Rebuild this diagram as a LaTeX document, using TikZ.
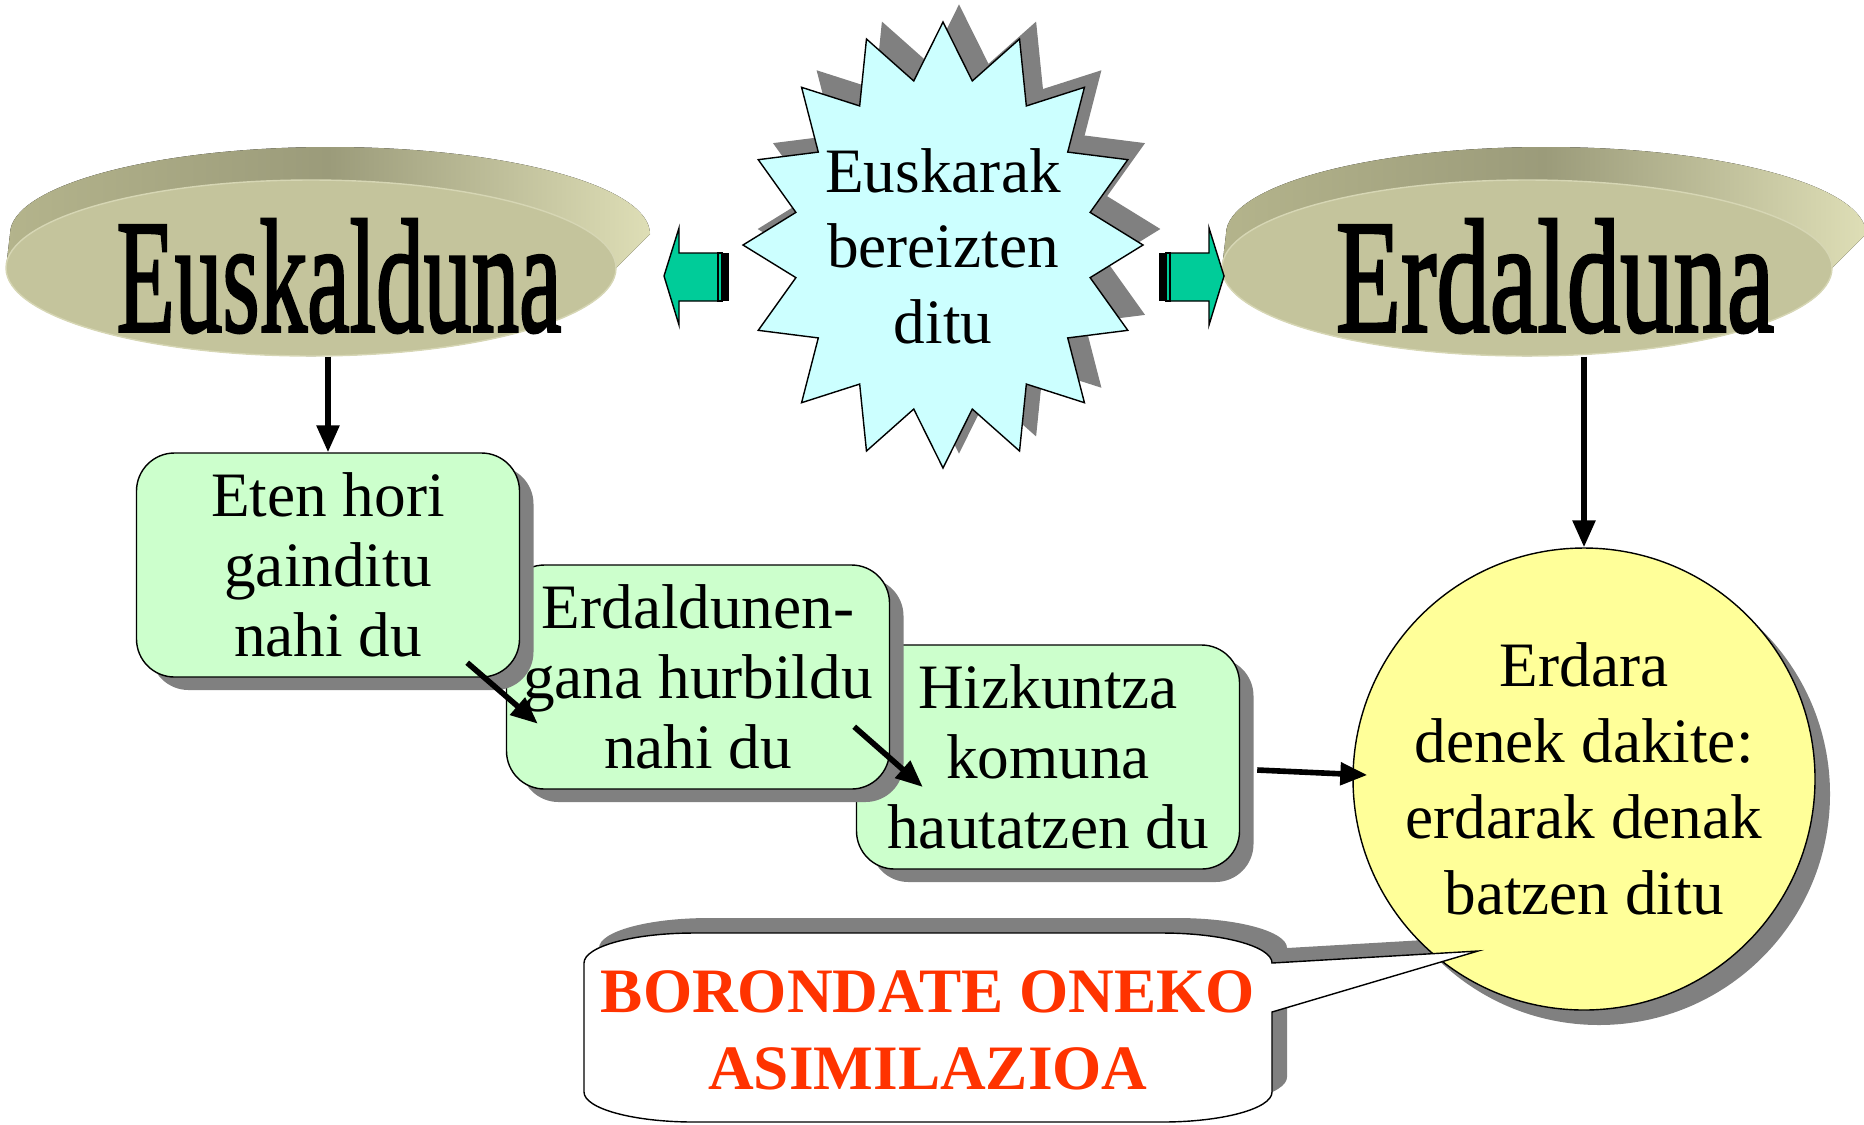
\documentclass[tikz,border=0pt]{standalone}
\usepackage{fontspec}
\setmainfont{Liberation Serif}
\newfontfamily\wordfont[FakeBold=2]{Liberation Serif}
\usepackage{tikz}
\usetikzlibrary{arrows.meta,positioning,shapes.geometric,shadows,calc}

\begin{document}
\begin{tikzpicture}[x=0.1mm,y=-0.1mm,
  txt/.style={align=center,font=\fontsize{18}{20}\selectfont},
  bigword/.style={font=\wordfont\fontsize{46}{46}\selectfont,inner sep=0pt},
  arr/.style={line width=1.6pt,-{Triangle[length=2.7mm,width=2.2mm]}},
  boxshadow/.style={drop shadow={shadow xshift=1.4mm,shadow yshift=-1.3mm,fill=shadowgray,opacity=1}},
  stepbox/.style={txt,draw,fill=boxgreen,rounded corners=3.8mm,minimum width=38.3mm,minimum height=22.4mm,inner sep=0pt,boxshadow}]
\definecolor{discface}{HTML}{C4C49C}
\definecolor{discedge}{HTML}{D6D6B4}
\definecolor{rimleft}{HTML}{B4B48C}
\definecolor{rimmid}{HTML}{9B9B7A}
\definecolor{rimright}{HTML}{DEDEB6}
\definecolor{starfill}{HTML}{CCFFFF}
\definecolor{boxgreen}{HTML}{CCFFCC}
\definecolor{arrowgreen}{HTML}{00CC99}
\definecolor{circfill}{HTML}{FFFF99}
\definecolor{shadowgray}{HTML}{808080}
\definecolor{warn}{HTML}{FF3300}
\useasboundingbox (0,0) rectangle (1864,1124);

% discs
\foreach \cx/\name/\word/\sc in {311/euskal/Euskalduna/0.59,1527/erdal/Erdalduna/0.66}{
  \fill[left color=rimleft,right color=rimright,middle color=rimmid]
    (\cx-305,268) -- (\cx-301,234) arc (180:360:320 and 87) -- (\cx+305,268) arc (0:180:305 and 88) -- cycle;
  \node[ellipse,fill=discface,draw=discedge,minimum width=61mm,minimum height=17.6mm] (\name) at (\cx,268) {};
  \node[bigword] (\name-w) at (\cx+28,276) {\scalebox{\sc}[1]{\word}};
}

% starburst
\foreach \dx/\dy/\col/\ln in {16/-16/shadowgray/shadowgray,0/0/starfill/black}
  \filldraw[fill=\col,draw=\ln,shift={(943+\dx,245+\dy)}] (0:200 and 223)
    \foreach \k [evaluate=\k as \rad using {1-0.25*mod(\k,2)}] in {1,...,31}{ -- ({11.25*\k}:{\rad*200} and {\rad*223}) } -- cycle;
\node[txt,font=\fontsize{18}{21.5}\selectfont] (burst) at (943,246) {Euskarak\\bereizten\\ditu};

% striped arrows
\foreach \s in {1,-1}{
  \begin{scope}[shift={(944,276)},xscale=\s]
    \filldraw[fill=arrowgreen] (-280,0) -- (-265,-48) -- (-265,-23) -- (-226,-23) -- (-226,25) -- (-265,25) -- (-265,49) -- cycle;
    \filldraw[fill=arrowgreen] (-226,-23) rectangle (-222,25);
    \fill (-221,-23) rectangle (-215,25);
  \end{scope}
}

% steps
\node[stepbox] (komun) at (1048,757) {Hizkuntza\\komuna\\hautatzen du};
\node[stepbox] (hurbil) at (698,677) {Erdaldunen-\\gana hurbildu\\nahi du};
\node[stepbox] (eten) at (328,565) {Eten hori\\gainditu\\nahi du};

\draw[arr] (eten.north |- euskal.south) -- (eten.north);
\draw[arr] ($(eten.south east)+(-53,-15)$) -- ($(hurbil.south west)+(32,-66)$);
\draw[arr] ($(hurbil.south east)+(-36,-63)$) -- ($(komun.west)+(67,30)$);

% callout shadow
\fill[shadowgray,shift={(15,-15)}] (584,963) -- (584,1092) arc (180:90:110 and 30) -- (1162,1122) arc (90:0:110 and 30)
  -- (1272,1012) -- (1478,951) -- (1272,963) arc (0:-90:110 and 30) -- (694,933) arc (270:180:110 and 30) -- cycle;

\node[txt,font=\fontsize{18}{21.6}\selectfont,circle,draw,fill=circfill,minimum size=46.2mm,inner sep=0pt,
  drop shadow={shadow xshift=1.5mm,shadow yshift=-1.5mm,fill=shadowgray,opacity=1}] (erdara) at (1584,779)
  {Erdara\\denek dakite:\\erdarak denak\\batzen ditu};
\draw[arr] (erdara.north |- erdal.south) -- (erdara.north);
\draw[arr] ($(komun.east)+(17,13)$) -- ($(erdara.west)+(15,-4)$);

% callout
\filldraw[fill=white] (584,963) -- (584,1092) arc (180:90:110 and 30) -- (1162,1122) arc (90:0:110 and 30)
  -- (1272,1012) -- (1478,951) -- (1272,963) arc (0:-90:110 and 30) -- (694,933) arc (270:180:110 and 30) -- cycle;
\node[text=warn,align=center,font=\bfseries\fontsize{18}{22}\selectfont] (bor) at (928,1030) {BORONDATE ONEKO\\ASIMILAZIOA};
\end{tikzpicture}
\end{document}
